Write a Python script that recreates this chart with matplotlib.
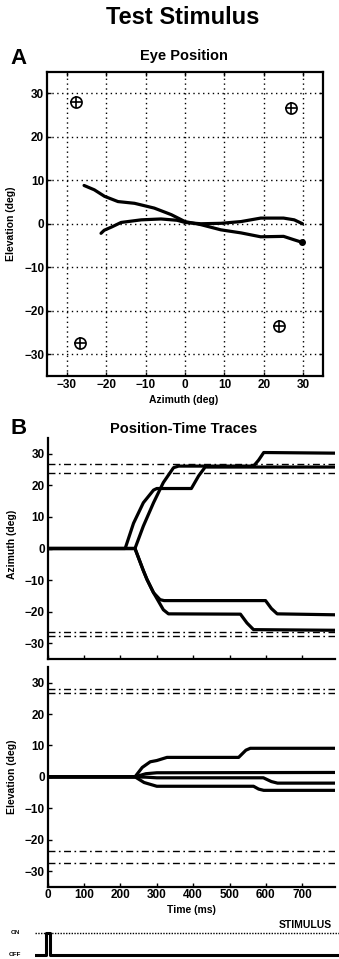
import matplotlib
matplotlib.use("Agg")
import matplotlib.pyplot as plt

plt.rcParams['font.family'] = ['Liberation Sans', 'DejaVu Sans']
plt.rcParams['font.weight'] = 'bold'

W, H = 339, 959

# ---------------- data ----------------
# target positions (deg)
target_az = [-27.6, 26.8, -26.6, 23.9]
target_el = [28.0, 26.6, -27.3, -23.6]

# eye trajectories (panel A)
traj1_az = [-21.3, -20.5, -18.5, -16.2, -11.1, -6.1, -2.0, 0.0, 4.0, 9.1, 14.2, 19.2, 25.0, 27.7, 29.8]
traj1_el = [-2.2, -1.5, -0.7, 0.3, 0.9, 1.1, 0.8, 0.3, 0.0, 0.1, 0.5, 1.3, 1.3, 0.9, 0.0]
traj2_az = [-25.6, -23.0, -20.4, -17.0, -12.8, -7.8, -3.5, 0.0, 4.0, 9.1, 14.2, 19.2, 25.0, 27.7, 29.8]
traj2_el = [8.8, 7.8, 6.3, 5.1, 4.7, 3.6, 2.1, 0.5, -0.2, -1.4, -2.1, -3.0, -2.9, -3.7, -4.3]

# azimuth time traces (panel B, top)
az1_t = [0, 213, 236, 263, 291, 300, 395, 415, 433, 790]
az1_v = [0, 0, 8.0, 14.5, 18.5, 19.0, 19.0, 23.0, 25.8, 25.8]
az2_t = [0, 240, 263, 291, 318, 346, 360, 566, 580, 594, 790]
az2_v = [0, 0, 7.1, 14.5, 20.9, 25.6, 26.1, 26.1, 28.0, 30.4, 30.2]
az3_t = [0, 240, 263, 273, 291, 309, 320, 599, 615, 631, 790]
az3_v = [0, 0, -7.0, -9.8, -14.0, -16.2, -16.5, -16.5, -19.0, -20.7, -21.0]
az4_t = [0, 240, 263, 273, 291, 318, 332, 530, 548, 566, 790]
az4_v = [0, 0, -7.0, -9.8, -14.0, -19.4, -20.7, -20.8, -23.6, -25.7, -25.9]

# elevation time traces (panel B, bottom)
el1_t = [0, 240, 260, 282, 300, 328, 525, 545, 557, 790]
el1_v = [0, 0, 3.0, 4.8, 5.2, 6.2, 6.2, 8.5, 9.1, 9.1]
el2_t = [0, 240, 270, 300, 790]
el2_v = [0, 0, 1.0, 1.3, 1.4]
el3_t = [0, 240, 270, 300, 593, 615, 632, 790]
el3_v = [0, 0, -0.1, -0.3, -0.3, -1.5, -2.0, -2.0]
el4_t = [0, 240, 265, 300, 566, 580, 594, 790]
el4_v = [0, 0, -1.8, -3.0, -3.0, -3.9, -4.3, -4.3]

# stimulus on/off
stim_t = [-35, -5, -5, 6, 6, 803]
stim_v = [0, 0, 1, 1, 0, 0]

ticks_deg = [-30, -20, -10, 0, 10, 20, 30]
ticks_time = [0, 100, 200, 300, 400, 500, 600, 700]

# ---------------- figure ----------------
fig = plt.figure(figsize=(W / 100, H / 100), dpi=100)


def axes_px(left, top, right, bottom):
    return fig.add_axes([left / W, 1 - bottom / H, (right - left) / W, (bottom - top) / H])


def ftext(x, y, s, **kw):
    fig.text(x / W, 1 - y / H, s, **kw)


TICK_FS = 8.5
LAB_FS = 7.5
LW = 2.3

ftext(183, 18, "Test Stimulus", ha='center', va='center', fontsize=17, fontweight='bold')

# ---------------- panel A ----------------
axA = axes_px(47, 71.5, 323, 376)
axA.plot(traj1_az, traj1_el, color='black', lw=LW, solid_capstyle='round')
axA.plot(traj2_az, traj2_el, color='black', lw=LW, solid_capstyle='round')
axA.plot(traj2_az[-1], traj2_el[-1], 'o', color='black', ms=4)
axA.plot(target_az, target_el, 'o', mfc='none', mec='black', ms=8, mew=1.2)
axA.plot(target_az, target_el, '+', color='black', ms=8, mew=1.2)
axA.set_xlim(-35, 35)
axA.set_ylim(-35, 35)
axA.set_xticks(ticks_deg)
axA.set_yticks(ticks_deg)
axA.grid(True, linestyle=(0, (1, 2.5)), color='black', lw=1.0)
axA.tick_params(direction='in', length=3, width=1, labelsize=TICK_FS, top=True, right=True, pad=2)
for s in axA.spines.values():
    s.set_linewidth(1.6)
for lab in axA.get_xticklabels() + axA.get_yticklabels():
    lab.set_fontweight('bold')
ftext(184, 400, "Azimuth (deg)", ha='center', va='center', fontsize=LAB_FS, fontweight='bold')
ftext(11, 224, "Elevation (deg)", ha='center', va='center', rotation=90, fontsize=LAB_FS, fontweight='bold')
ftext(10, 58, "A", ha='left', va='center', fontsize=16, fontweight='bold')
ftext(184, 56, "Eye Position", ha='center', va='center', fontsize=10.5, fontweight='bold')

# ---------------- panel B ----------------
dashdot = (0, (5, 2.5, 1.2, 2.5))


def style_trace_axes(ax):
    ax.set_xlim(0, 790)
    ax.set_ylim(-35, 35)
    ax.set_yticks(ticks_deg)
    ax.set_xticks(ticks_time)
    ax.spines['top'].set_visible(False)
    ax.spines['right'].set_visible(False)
    ax.spines['left'].set_linewidth(1.6)
    ax.spines['bottom'].set_linewidth(1.6)
    ax.tick_params(direction='in', length=3, width=1, labelsize=TICK_FS, pad=2)
    for lab in ax.get_xticklabels() + ax.get_yticklabels():
        lab.set_fontweight('bold')


axB1 = axes_px(47.7, 438, 335, 659)
for v in target_az:
    axB1.axhline(v, color='black', lw=1.0, linestyle=dashdot)
for t, v in [(az1_t, az1_v), (az2_t, az2_v), (az3_t, az3_v), (az4_t, az4_v)]:
    axB1.plot(t, v, color='black', lw=LW)
style_trace_axes(axB1)
axB1.set_xticklabels([])
ftext(12, 544, "Azimuth (deg)", ha='center', va='center', rotation=90, fontsize=LAB_FS, fontweight='bold')
ftext(11, 428.5, "B", ha='left', va='center', fontsize=16, fontweight='bold')
ftext(184, 429, "Position-Time Traces", ha='center', va='center', fontsize=10.5, fontweight='bold')

axB2 = axes_px(47.7, 667, 335, 886.7)
for v in target_el:
    axB2.axhline(v, color='black', lw=1.0, linestyle=dashdot)
for t, v in [(el1_t, el1_v), (el2_t, el2_v), (el3_t, el3_v), (el4_t, el4_v)]:
    axB2.plot(t, v, color='black', lw=LW)
style_trace_axes(axB2)
ftext(191, 910, "Time (ms)", ha='center', va='center', fontsize=LAB_FS, fontweight='bold')
ftext(12, 777, "Elevation (deg)", ha='center', va='center', rotation=90, fontsize=LAB_FS, fontweight='bold')

# ---------------- stimulus ----------------
axS = axes_px(35, 926, 339, 959)
axS.set_xlim(-35, 803)
axS.set_ylim(-4 / 22, 1 + 7 / 22)
axS.axis('off')
axS.plot([-35, 803], [1, 1], color='black', lw=1.0, linestyle=(0, (1, 1)))
axS.plot(stim_t, stim_v, color='black', lw=2.2)
ftext(15, 933, "ON", ha='center', va='center', fontsize=4.5, fontweight='bold')
ftext(15, 955, "OFF", ha='center', va='center', fontsize=4.5, fontweight='bold')
ftext(332, 925, "STIMULUS", ha='right', va='center', fontsize=7.5, fontweight='bold')

fig.savefig("out.png", dpi=100)
